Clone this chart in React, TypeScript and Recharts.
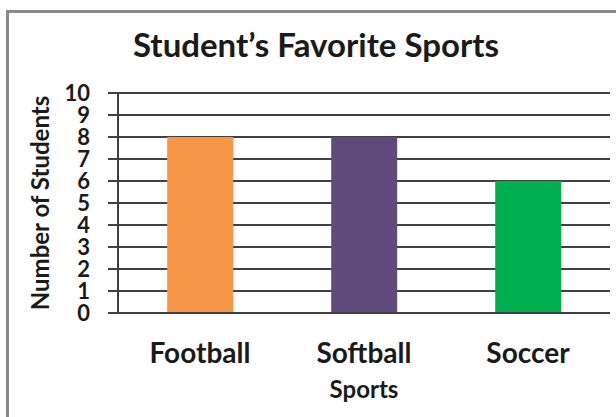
import React from "react";
import { BarChart, Bar, XAxis, YAxis, CartesianGrid, Cell } from "recharts";

const categories = ["Football", "Softball", "Soccer"];
const students = [8, 8, 6];
const barColors = ["#F79646", "#604A7B", "#00B050"];
const yTicks = [0, 1, 2, 3, 4, 5, 6, 7, 8, 9, 10];

const data = categories.map((name, i) => ({ name, value: students[i] }));

const FONT = "Lato, 'Open Sans', sans-serif";
const LINE = "#404040";

export default function App() {
  return (
    <div style={{ position: "relative", width: 616, height: 417, overflow: "hidden", background: "#fff" }}>
      <style>{"body{margin:0;overflow:hidden}"}</style>
      <div
        style={{
          position: "absolute",
          left: 6,
          top: 10,
          width: 700,
          height: 600,
          border: "3px solid #8a8a8a",
          boxSizing: "border-box",
        }}
      />
      <svg style={{ position: "absolute", left: 0, top: 0 }} width={616} height={80}>
        <text x={316} y={57} textAnchor="middle" fontFamily={FONT} fontWeight="bold" fontSize={33} fill="#1a1a1a">
          Student’s Favorite Sports
        </text>
      </svg>
      <div style={{ position: "absolute", left: 0, top: 0 }}>
        <BarChart
          width={616}
          height={417}
          data={data}
          margin={{ top: 93, right: 6, bottom: 14, left: 0 }}
          barCategoryGap="30%"
        >
          <CartesianGrid vertical={false} stroke={LINE} strokeWidth={2} strokeOpacity={1} />
          <XAxis
            dataKey="name"
            height={90}
            tickLine={false}
            tickSize={0}
            tickMargin={30}
            axisLine={{ stroke: LINE, strokeWidth: 2 }}
            tick={{ fontFamily: FONT, fontWeight: "bold", fontSize: 28, fill: "#1a1a1a" }}
            label={{
              value: "Sports",
              position: "center",
              dy: 31,
              style: { fontFamily: FONT, fontWeight: "bold", fontSize: 24, fill: "#1a1a1a" },
            }}
          />
          <YAxis
            width={118}
            domain={[0, 10]}
            ticks={yTicks}
            interval={0}
            tickSize={10}
            tickMargin={18}
            tickLine={{ stroke: LINE, strokeWidth: 2 }}
            axisLine={{ stroke: LINE, strokeWidth: 2 }}
            tick={{ fontFamily: FONT, fontWeight: "bold", fontSize: 22, fill: "#1a1a1a" }}
            label={{
              value: "Number of Students",
              angle: -90,
              position: "center",
              dx: -19,
              style: { fontFamily: FONT, fontWeight: "bold", fontSize: 24, fill: "#1a1a1a", textAnchor: "middle" },
            }}
          />
          <YAxis
            yAxisId="right"
            orientation="right"
            width={0}
            domain={[0, 10]}
            tick={false}
            tickLine={false}
            axisLine={{ stroke: LINE, strokeWidth: 2 }}
          />
          <Bar dataKey="value" isAnimationActive={false}>
            {data.map((d, i) => (
              <Cell key={d.name} fill={barColors[i]} />
            ))}
          </Bar>
        </BarChart>
      </div>
    </div>
  );
}
